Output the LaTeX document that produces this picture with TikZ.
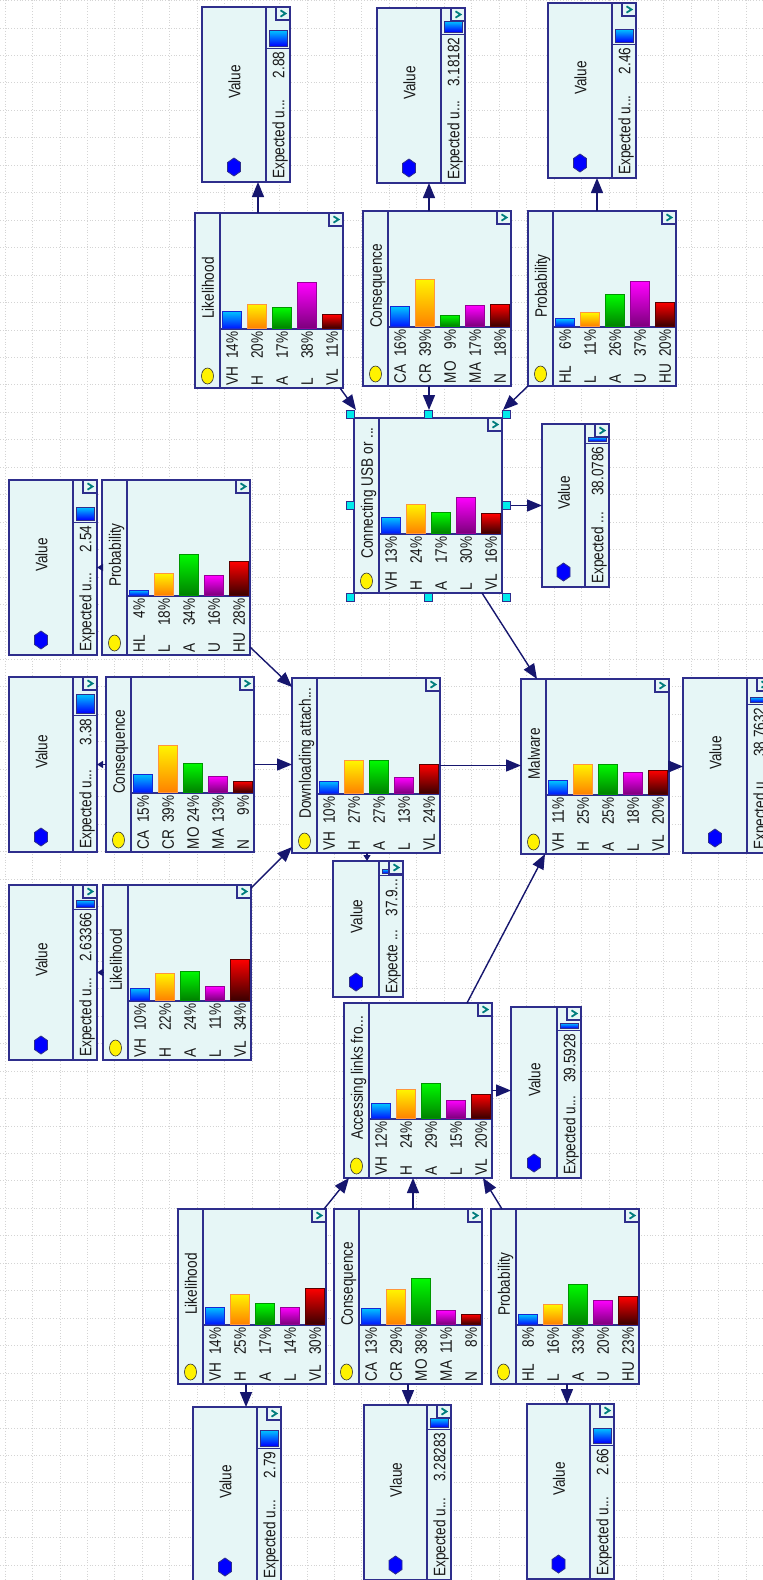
\documentclass[tikz,border=0pt]{standalone}
\usepackage{fontspec}
\setmainfont{Liberation Sans}
\usetikzlibrary{arrows.meta}

\definecolor{nodefill}{RGB}{230,246,246}
\definecolor{nodeline}{RGB}{46,46,140}
\definecolor{arrowc}{RGB}{22,22,110}
\definecolor{gridc}{RGB}{212,212,212}
\definecolor{chk}{RGB}{0,125,125}
\definecolor{grabc}{RGB}{0,235,235}
\definecolor{bartop0}{RGB}{0,195,255}\definecolor{barbot0}{RGB}{0,25,255}\definecolor{barln0}{RGB}{20,40,210}
\definecolor{bartop1}{RGB}{255,245,0}\definecolor{barbot1}{RGB}{255,130,0}\definecolor{barln1}{RGB}{255,150,60}
\definecolor{bartop2}{RGB}{0,250,0}\definecolor{barbot2}{RGB}{0,130,0}\definecolor{barln2}{RGB}{0,150,0}
\definecolor{bartop3}{RGB}{255,0,255}\definecolor{barbot3}{RGB}{125,0,125}\definecolor{barln3}{RGB}{150,0,150}
\definecolor{bartop4}{RGB}{255,0,0}\definecolor{barbot4}{RGB}{60,0,0}\definecolor{barln4}{RGB}{90,0,0}
\definecolor{vbtop}{RGB}{0,200,255}\definecolor{vbbot}{RGB}{0,0,255}

\newcommand\lblfont{\fontsize{13.6}{16}\selectfont}

\tikzset{
  box/.style={draw=nodeline, fill=nodefill, line width=1.4pt, inner sep=0pt, outer sep=0pt, rectangle},
  part/.style={draw=nodeline, line width=1.4pt},
  txt/.style={inner sep=0pt, rotate=90, yscale=1.22, font=\lblfont, text=black!90, text height=10.5pt, text depth=0pt},
  conn/.style={draw=arrowc, line width=1.4pt, -{Triangle[length=15pt,width=12pt]}},
  tinyconn/.style={draw=arrowc, line width=1.4pt, -{Triangle[length=6pt,width=7pt]}},
  grab/.style={draw=nodeline, fill=grabc, line width=0.7pt, minimum size=8pt, inner sep=0pt, rectangle},
  gridline/.style={draw=gridc, line width=0.8pt, dash pattern=on 1pt off 1.8pt},
}

% small expander box with a chevron
\newcommand\chkbox[2]{%
  \draw[part, fill=nodefill] (#1,#2) rectangle (#1+14,#2+13);
  \draw[chk, line width=1.8pt] (#1+4.5,#2+3.3) -- (#1+9.5,#2+6.5) -- (#1+4.5,#2+9.7);
}

% chance node: name, left, top, title, state/percent list
\newcommand\chance[5]{%
  \node[box, anchor=north west, minimum width=148pt, minimum height=175pt] (#1) at (#2,#3) {};
  \draw[part] (#2+25,#3) -- (#2+25,#3+175);
  \draw[part] (#2+25,#3+116) -- (#2+148,#3+116);
  \chkbox{#2+134}{#3}
  \draw[fill=yellow, draw=black!80, line width=0.6pt] (#2+12.5,#3+163) ellipse [x radius=6pt, y radius=8pt];
  \node[txt] (#1-t) at (#2+12.5,#3+75) {#4};
  \foreach \lab/\pc [count=\ii from 0] in {#5}{
    \pgfmathsetmacro\bx{#2+27+25*\ii}
    \pgfmathsetmacro\bt{#3+115-1.2*\pc}
    \pgfmathsetmacro\bc{\bx+9.5}
    \draw[draw=barln\ii, line width=0.8pt, top color=bartop\ii, bottom color=barbot\ii] (\bx,#3+115) rectangle (\bx+19,\bt);
    \node[txt, anchor=west] (#1-l\ii) at (\bc,#3+172.5) {\lab};
    \node[txt, anchor=east] (#1-p\ii) at (\bc,#3+118.5) {\pc\%};
  }
}

\newcommand\vtitle{Value}
\newcommand\vexp{Expected u...}
% utility node: name, left, top, width, height, bar top, bar bottom, value
\newcommand\valnode[8]{%
  \node[box, anchor=north west, minimum width=#4pt, minimum height=#5pt] (#1) at (#2,#3) {};
  \pgfmathsetmacro\sx{#2+#4-24}
  \pgfmathsetmacro\sc{#2+#4-12}
  \pgfmathsetmacro\mc{#2+(#4-24)/2}
  \pgfmathsetmacro\tc{#3+(#5-25)/2}
  \pgfmathsetmacro\hy{#3+#5-15}
  \draw[part] (\sx,#3) -- (\sx,#3+#5);
  \draw[part] (\sx,#3+#7+2.5) -- (#2+#4,#3+#7+2.5);
  \draw[draw=nodeline, line width=0.8pt, top color=vbtop, bottom color=vbbot] (\sx+3,#3+#6) rectangle (\sx+21,#3+#7);
  \chkbox{#2+#4-14}{#3}
  \node[txt] (#1-t) at (\mc,\tc) {\vtitle};
  \draw[fill=blue, draw=nodeline, line width=0.8pt] (\mc,\hy) ++(0,-9) -- ++(6.5,4.5) -- ++(0,9) -- ++(-6.5,4.5) -- ++(-6.5,-4.5) -- ++(0,-9) -- cycle;
  \node[txt, anchor=west] (#1-e) at (\sc,#3+#5-3) {\vexp};
  \node[txt, anchor=east] (#1-v) at (\sc,#3+#7+5.5) {#8};
}

\begin{document}
\begin{tikzpicture}[x=1pt,y=-1pt]
\useasboundingbox (0,0) rectangle (763,1580);
\fill[white] (0,0) rectangle (763,1580);
\clip (0,0) rectangle (763,1580);

% background grid
\foreach \gx in {5,32.45,...,763} \draw[gridline] (\gx,0) -- (\gx,1580);
\foreach \gy in {0.5,27.95,...,1580} \draw[gridline] (0,\gy) -- (763,\gy);

% chance nodes
\chance{C1}{195}{213}{Likelihood}{VH/14,H/20,A/17,L/38,VL/11}
\chance{C2}{363}{211}{Consequence}{CA/16,CR/39,MO/9,MA/17,N/18}
\chance{C3}{528}{211}{Probability}{HL/6,L/11,A/26,U/37,HU/20}
\chance{C4}{354}{418}{Connecting USB or ...}{VH/13,H/24,A/17,L/30,VL/16}
\chance{C5}{102}{480}{Probability}{HL/4,L/18,A/34,U/16,HU/28}
\chance{C6}{106}{677}{Consequence}{CA/15,CR/39,MO/24,MA/13,N/9}
\chance{C7}{292}{678}{Downloading attach...}{VH/10,H/27,A/27,L/13,VL/24}
\chance{C8}{103}{885}{Likelihood}{VH/10,H/22,A/24,L/11,VL/34}
\chance{C9}{521}{679}{Malware}{VH/11,H/25,A/25,L/18,VL/20}
\chance{C10}{344}{1003}{Accessing links fro...}{VH/12,H/24,A/29,L/15,VL/20}
\chance{C11}{178}{1209}{Likelihood}{VH/14,H/25,A/17,L/14,VL/30}
\chance{C12}{334}{1209}{Consequence}{CA/13,CR/29,MO/38,MA/11,N/8}
\chance{C13}{491}{1209}{Probability}{HL/8,L/16,A/33,U/20,HU/23}

% utility nodes
\valnode{V1}{202}{7}{88}{175}{23}{39}{2.88}
\valnode{V2}{377}{8}{88}{175}{13}{24}{3.18182}
\valnode{V3}{548}{3}{88}{175}{26}{39}{2.46}
{\renewcommand\vexp{Expected ...}\valnode{V4}{542}{424}{67}{163}{13}{17}{38.0786}}
\valnode{V5}{9}{480}{88}{175}{27}{40}{2.54}
\valnode{V6}{9}{677}{88}{175}{17}{36}{3.38}
\valnode{V7}{9}{885}{88}{175}{15}{22}{2.63366}
{\renewcommand\vexp{Expecte ...}\valnode{V8}{333}{861}{70}{136}{8}{12}{37.9...}}
\valnode{V9}{511}{1007}{70}{171}{16}{21}{39.5928}
\valnode{V10}{193}{1407}{88}{175}{23}{39}{2.79}
{\renewcommand\vtitle{Vlaue}\valnode{V11}{364}{1405}{87}{175}{13}{22}{3.28283}}
\valnode{V12}{527}{1404}{87}{175}{24}{39}{2.66}
\valnode{V13}{683}{678}{88}{175}{19}{24}{38.7632}

% arcs
\draw[conn] ([xshift=63pt]C1.north west) -- ([xshift=63pt]C1.north west |- V1.south);
\draw[conn] ([xshift=66pt]C2.north west) -- ([xshift=66pt]C2.north west |- V2.south);
\draw[conn] ([xshift=69pt]C3.north west) -- ([xshift=69pt]C3.north west |- V3.south);
\draw[conn] ([xshift=-3pt]C1.south east) -- ([shift={(2pt,8pt)}]C4.north west);
\draw[conn] ([xshift=66pt]C2.south west) -- ([xshift=66pt,yshift=8pt]C2.south west |- C4.north);
\draw[conn] (C3.south west) -- ([shift={(1pt,8pt)}]C4.north east);
\draw[conn] (C4.east) -- (C4.east -| V4.west);
\draw[conn] ([xshift=-20pt]C4.south east) -- ([xshift=16pt]C9.north west);
\draw[tinyconn] (C5.west) -- (C5.west -| V5.east);
\draw[tinyconn] (C6.west) -- (C6.west -| V6.east);
\draw[tinyconn] (C8.west) -- (C8.west -| V7.east);
\draw[conn] ([yshift=8pt]C5.south east) -- ([yshift=-9pt]C7.north west);
\draw[conn] (C6.east) -- (C6.east -| C7.west);
\draw[conn] ([yshift=-3pt]C8.north east) -- ([yshift=6pt]C7.south west);
\draw[conn] (C7.east) -- (C7.east -| C9.west);
\draw[tinyconn] ([xshift=75pt]C7.south west) -- ([xshift=75pt]C7.south west |- V8.north);
\draw[conn] (C9.east) -- (C9.east -| V13.west);
\draw[conn] ([xshift=123pt]C10.north west) -- ([xshift=24pt]C9.south west);
\draw[conn] (C10.east) -- (C10.east -| V9.west);
\draw[conn] ([xshift=-2pt]C11.north east) -- ([xshift=5pt]C10.south west);
\draw[conn] ([xshift=79pt]C12.north west) -- ([xshift=79pt]C12.north west |- C10.south);
\draw[conn] ([xshift=11pt]C13.north west) -- ([xshift=-9pt]C10.south east);
\draw[conn] ([xshift=68pt]C11.south west) -- ([xshift=68pt]C11.south west |- V10.north);
\draw[conn] ([xshift=74pt]C12.south west) -- ([xshift=74pt]C12.south west |- V11.north);
\draw[conn] ([xshift=76pt]C13.south west) -- ([xshift=76pt]C13.south west |- V12.north);

% selection handles round the selected node
\foreach \a/\dx/\dy [count=\hh] in {north west/-4/4, north/0/4, north east/4/4, east/4/0, south east/4/-4, south/0/-4, south west/-4/-4, west/-4/0}
  \node[grab] (H\hh) at ([shift={(\dx pt,\dy pt)}]C4.\a) {};
\end{tikzpicture}
\end{document}
